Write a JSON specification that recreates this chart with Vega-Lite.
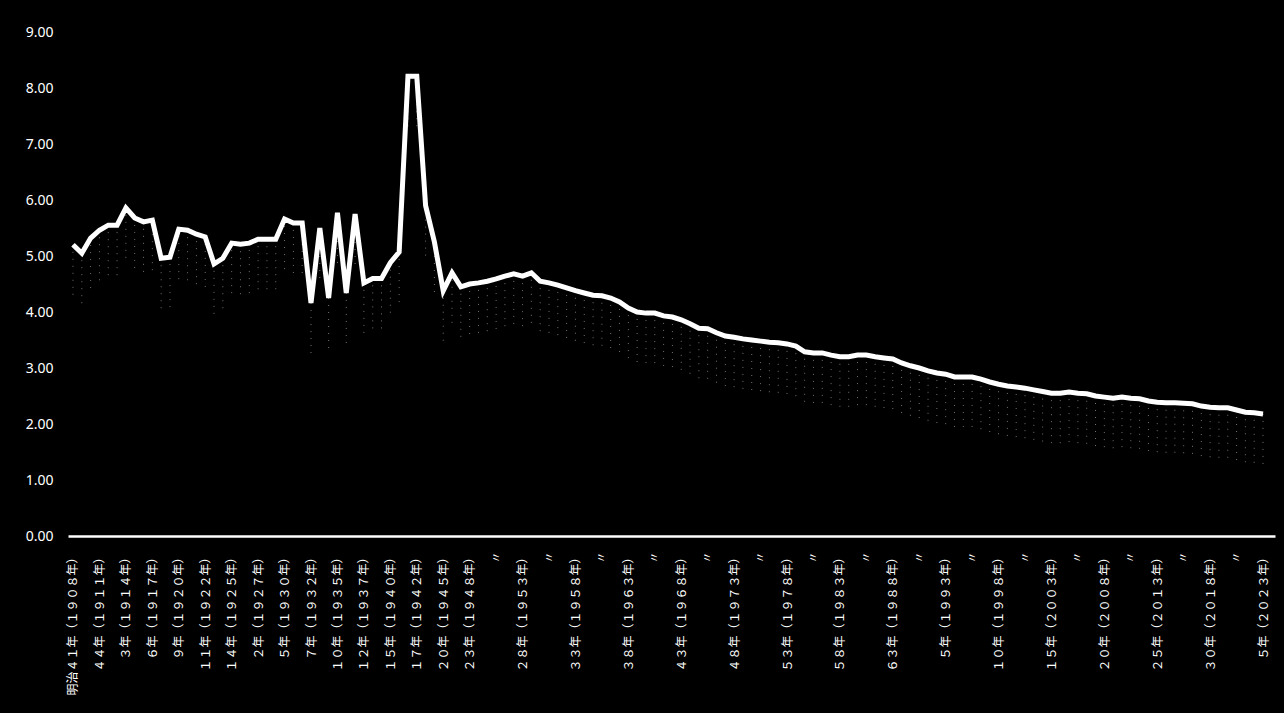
{
  "$schema": "https://vega.github.io/schema/vega-lite/v6.json",
  "width": 1207,
  "height": 504,
  "autosize": {"type": "none"},
  "padding": {"left": 68, "top": 32, "right": 9, "bottom": 177},
  "background": "#000000",
  "config": {"view": {"stroke": null}, "axis": {"grid": false}},
  "data": {"values": [
    {"n":0,"v":5.20},{"n":1,"v":5.05},{"n":2,"v":5.32},{"n":3,"v":5.46},{"n":4,"v":5.55},{"n":5,"v":5.55},{"n":6,"v":5.86},{"n":7,"v":5.68},{"n":8,"v":5.61},{"n":9,"v":5.64},
    {"n":10,"v":4.96},{"n":11,"v":4.98},{"n":12,"v":5.48},{"n":13,"v":5.46},{"n":14,"v":5.39},{"n":15,"v":5.34},{"n":16,"v":4.86},{"n":17,"v":4.96},{"n":18,"v":5.23},{"n":19,"v":5.21},
    {"n":20,"v":5.23},{"n":21,"v":5.30},{"n":22,"v":5.30},{"n":23,"v":5.30},{"n":24,"v":5.66},{"n":25,"v":5.59},{"n":26,"v":5.59},{"n":27,"v":4.16},{"n":28,"v":5.50},{"n":29,"v":4.25},
    {"n":30,"v":5.77},{"n":31,"v":4.34},{"n":32,"v":5.75},{"n":33,"v":4.52},{"n":34,"v":4.60},{"n":35,"v":4.60},{"n":36,"v":4.88},{"n":37,"v":5.07},{"n":38,"v":8.21},{"n":39,"v":8.21},
    {"n":40,"v":5.90},{"n":41,"v":5.25},{"n":42,"v":4.38},{"n":43,"v":4.70},{"n":44,"v":4.45},{"n":45,"v":4.50},{"n":46,"v":4.52},{"n":47,"v":4.55},{"n":48,"v":4.59},{"n":49,"v":4.64},
    {"n":50,"v":4.68},{"n":51,"v":4.64},{"n":52,"v":4.70},{"n":53,"v":4.55},{"n":54,"v":4.52},{"n":55,"v":4.48},{"n":56,"v":4.43},{"n":57,"v":4.38},{"n":58,"v":4.34},{"n":59,"v":4.30},
    {"n":60,"v":4.29},{"n":61,"v":4.25},{"n":62,"v":4.18},{"n":63,"v":4.07},{"n":64,"v":4.00},{"n":65,"v":3.98},{"n":66,"v":3.98},{"n":67,"v":3.93},{"n":68,"v":3.91},{"n":69,"v":3.86},
    {"n":70,"v":3.79},{"n":71,"v":3.71},{"n":72,"v":3.70},{"n":73,"v":3.63},{"n":74,"v":3.57},{"n":75,"v":3.55},{"n":76,"v":3.52},{"n":77,"v":3.50},{"n":78,"v":3.48},{"n":79,"v":3.46},
    {"n":80,"v":3.45},{"n":81,"v":3.43},{"n":82,"v":3.39},{"n":83,"v":3.29},{"n":84,"v":3.27},{"n":85,"v":3.27},{"n":86,"v":3.23},{"n":87,"v":3.20},{"n":88,"v":3.20},{"n":89,"v":3.23},
    {"n":90,"v":3.23},{"n":91,"v":3.20},{"n":92,"v":3.18},{"n":93,"v":3.16},{"n":94,"v":3.09},{"n":95,"v":3.04},{"n":96,"v":3.00},{"n":97,"v":2.95},{"n":98,"v":2.91},{"n":99,"v":2.89},
    {"n":100,"v":2.84},{"n":101,"v":2.84},{"n":102,"v":2.84},{"n":103,"v":2.80},{"n":104,"v":2.75},{"n":105,"v":2.71},{"n":106,"v":2.68},{"n":107,"v":2.66},{"n":108,"v":2.64},{"n":109,"v":2.61},
    {"n":110,"v":2.58},{"n":111,"v":2.55},{"n":112,"v":2.55},{"n":113,"v":2.57},{"n":114,"v":2.55},{"n":115,"v":2.54},{"n":116,"v":2.50},{"n":117,"v":2.48},{"n":118,"v":2.46},{"n":119,"v":2.48},
    {"n":120,"v":2.46},{"n":121,"v":2.45},{"n":122,"v":2.41},{"n":123,"v":2.39},{"n":124,"v":2.38},{"n":125,"v":2.38},{"n":126,"v":2.37},{"n":127,"v":2.36},{"n":128,"v":2.32},{"n":129,"v":2.30},
    {"n":130,"v":2.29},{"n":131,"v":2.29},{"n":132,"v":2.25},{"n":133,"v":2.21},{"n":134,"v":2.20},{"n":135,"v":2.18}
  ]},
  "encoding": {
    "x": {
      "field": "n",
      "type": "quantitative",
      "scale": {"domain": [-0.567, 136.36], "nice": false, "zero": false},
      "axis": {
        "title": null,
        "values": [0,3,6,9,12,15,18,21,24,27,30,33,36,39,42,45,48,51,54,57,60,63,66,69,72,75,78,81,84,87,90,93,96,99,102,105,108,111,114,117,120,123,126,129,132,135],
        "labelExpr": "['明治４１年（１９０８年）','４４年（１９１１年）','３年（１９１４年）','６年（１９１７年）','９年（１９２０年）','１１年（１９２２年）','１４年（１９２５年）','２年（１９２７年）','５年（１９３０年）','７年（１９３２年）','１０年（１９３５年）','１２年（１９３７年）','１５年（１９４０年）','１７年（１９４２年）','２０年（１９４５年）','２３年（１９４８年）','〃','２８年（１９５３年）','〃','３３年（１９５８年）','〃','３８年（１９６３年）','〃','４３年（１９６８年）','〃','４８年（１９７３年）','〃','５３年（１９７８年）','〃','５８年（１９８３年）','〃','６３年（１９８８年）','〃','５年（１９９３年）','〃','１０年（１９９８年）','〃','１５年（２００３年）','〃','２０年（２００８年）','〃','２５年（２０１３年）','〃','３０年（２０１８年）','〃','５年（２０２３年）'][round(datum.value / 3)]",
        "labelAngle": -90,
        "labelFont": "Noto Sans CJK JP",
        "labelFontSize": 12,
        "labelColor": "#ffffff",
        "labelPadding": 15,
        "labelOverlap": false,
        "labelFlush": false,
        "labelBound": false,
        "ticks": false,
        "tickSize": 0,
        "domainColor": "#ffffff",
        "domainWidth": 2.5,
        "grid": false
      }
    },
    "y": {
      "field": "v",
      "type": "quantitative",
      "scale": {"domain": [0, 9], "nice": false},
      "axis": {
        "title": null,
        "values": [0,1,2,3,4,5,6,7,8,9],
        "format": ".2f",
        "labelFont": "Noto Sans",
        "labelFontSize": 14,
        "labelColor": "#ffffff",
        "labelPadding": 15,
        "labelFlush": false,
        "ticks": false,
        "tickSize": 0,
        "domain": false,
        "grid": false
      }
    }
  },
  "layer": [
    {"mark": {"type": "point", "shape": "M0,0V1", "size": 10000, "filled": false, "color": "#ffffff", "stroke": "#ffffff", "strokeWidth": 1, "strokeDash": [1, 6], "opacity": 0.45}},
    {"mark": {"type": "line", "color": "#ffffff", "strokeWidth": 5}}
  ]
}
